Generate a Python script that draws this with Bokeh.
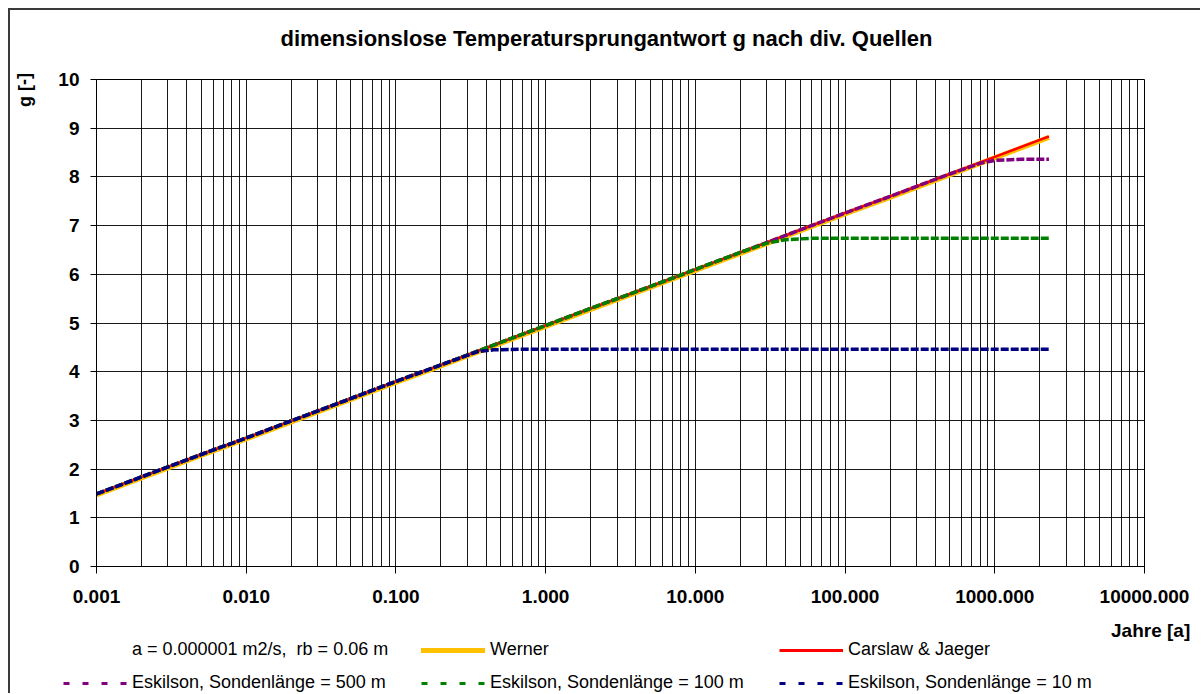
from bokeh.plotting import figure
from bokeh.layouts import column, row
from bokeh.models import FixedTicker, Legend, LegendItem, Range1d, Label
from bokeh.embed import file_html
from bokeh.resources import INLINE

# ---------------- data ----------------
t_years = [0.001, 0.002, 0.005, 0.01, 0.02, 0.05, 0.1, 0.2, 0.5, 1, 2, 5,
           10, 20, 50, 100, 200, 500, 1000, 2000, 2300]
werner = [1.47, 1.82, 2.28, 2.62, 2.97, 3.43, 3.78, 4.12, 4.58, 4.93, 5.28,
          5.73, 6.08, 6.43, 6.89, 7.24, 7.58, 8.04, 8.39, 8.74, 8.81]
carslaw = [1.49, 1.84, 2.30, 2.64, 2.99, 3.45, 3.80, 4.14, 4.60, 4.95, 5.30,
           5.75, 6.10, 6.45, 6.91, 7.26, 7.60, 8.06, 8.41, 8.76, 8.83]

esk500_t = [0.001, 0.002, 0.005, 0.01, 0.02, 0.05, 0.1, 0.2, 0.5, 1, 2, 5,
            10, 20, 50, 100, 200, 500, 800, 1000, 1500, 2300]
esk500_g = [1.49, 1.84, 2.30, 2.64, 2.99, 3.45, 3.80, 4.14, 4.60, 4.95, 5.30,
            5.75, 6.10, 6.45, 6.91, 7.26, 7.60, 8.06, 8.28, 8.34, 8.36, 8.36]

esk100_t = [0.001, 0.002, 0.005, 0.01, 0.02, 0.05, 0.1, 0.2, 0.5, 1, 2, 5,
            10, 20, 30, 40, 60, 100, 1000, 2300]
esk100_g = [1.49, 1.84, 2.30, 2.64, 2.99, 3.45, 3.80, 4.14, 4.60, 4.95, 5.30,
            5.75, 6.10, 6.45, 6.64, 6.71, 6.74, 6.74, 6.74, 6.74]

esk10_t = [0.001, 0.002, 0.005, 0.01, 0.02, 0.05, 0.1, 0.2, 0.35, 0.45,
           0.7, 1, 10, 100, 1000, 2300]
esk10_g = [1.49, 1.84, 2.30, 2.64, 2.99, 3.45, 3.80, 4.14, 4.41, 4.45,
           4.46, 4.46, 4.46, 4.46, 4.46, 4.46]

x_ticks = [0.001, 0.01, 0.1, 1, 10, 100, 1000, 10000]
x_tick_labels = ["0.001", "0.010", "0.100", "1.000", "10.000", "100.000",
                 "1000.000", "10000.000"]
y_ticks = [0, 1, 2, 3, 4, 5, 6, 7, 8, 9, 10]

title_text = "dimensionslose Temperatursprungantwort g nach div. Quellen"
y_label_text = "g [-]"
x_label_text = "Jahre  [a]"
param_text = "a = 0.000001 m2/s,  rb = 0.06 m"
series_names = ["Werner", "Carslaw & Jaeger", "Eskilson, Sondenlänge = 500 m",
                "Eskilson, Sondenlänge = 100 m", "Eskilson, Sondenlänge = 10 m"]

FONT = "Liberation Sans"
C_WERNER, C_CJ = "#FFC000", "#FF0000"
C_500, C_100, C_10 = "#800080", "#008000", "#000080"
NAN = float("nan")


def strip(w, h):
    f = figure(width=w, height=h, output_backend="svg", toolbar_location=None,
               x_axis_location=None, y_axis_location=None,
               x_range=Range1d(0, w), y_range=Range1d(0, h),
               min_border_left=0, min_border_right=0,
               min_border_top=0, min_border_bottom=0)
    f.grid.visible = False
    f.outline_line_color = None
    f.background_fill_color = "white"
    f.border_fill_color = "white"
    return f


def txt(f, x, y, s, size, bold=True, align="center", angle=0):
    f.add_layout(Label(x=x, y=y, x_units="screen", y_units="screen", text=s,
                       angle=angle, text_font=FONT,
                       text_font_style="bold" if bold else "normal",
                       text_font_size=size, text_align=align,
                       text_baseline="middle", text_color="black"))


W_G, W_R = 40, 1150
H_TOP, H_P, H_L = 50, 553, 80
H_ALL = H_TOP + H_P + H_L

# ---------------- left strip with the y label ----------------
gst = strip(W_G, H_ALL)
txt(gst, 14, H_ALL - 79.5, y_label_text, "18px", angle=1.5708)

# ---------------- title strip ----------------
top = strip(W_R, H_TOP)
txt(top, 556, 22, title_text, "22px")

# ---------------- main chart ----------------
p = figure(width=W_R, height=H_P, x_axis_type="log",
           x_range=Range1d(0.001, 10000), y_range=Range1d(0, 10),
           output_backend="svg", toolbar_location=None,
           min_border_left=46, min_border_right=56,
           min_border_top=19, min_border_bottom=47)
p.background_fill_color = "white"
p.border_fill_color = "white"
p.outline_line_color = "black"
p.outline_line_alpha = 1

minor = [m * 10.0 ** e for e in range(-3, 4) for m in range(2, 10)]
xt = FixedTicker(ticks=x_ticks, minor_ticks=minor)
yt = FixedTicker(ticks=y_ticks)
p.xaxis.ticker = xt
p.xgrid.ticker = xt
p.yaxis.ticker = yt
p.ygrid.ticker = yt
p.xaxis.major_label_overrides = {t: l for t, l in zip(x_ticks, x_tick_labels)}

for ax in (p.xaxis, p.yaxis):
    ax.major_label_text_font = FONT
    ax.major_label_text_font_style = "bold"
    ax.major_label_text_font_size = "19px"
    ax.major_label_text_color = "black"
    ax.axis_line_color = "black"
    ax.major_tick_line_color = "black"
    ax.major_tick_in = 0
    ax.minor_tick_in = 0
    ax.minor_tick_out = 0
p.xaxis.major_tick_out = 7
p.xaxis.major_label_standoff = 16
p.yaxis.major_tick_out = 6
p.yaxis.major_label_standoff = 11

p.xgrid.grid_line_color = "black"
p.xgrid.grid_line_alpha = 0.9
p.xgrid.minor_grid_line_color = "black"
p.xgrid.minor_grid_line_alpha = 0.9
p.ygrid.grid_line_color = "black"
p.ygrid.grid_line_alpha = 0.9

p.line(t_years, werner, line_color=C_WERNER, line_width=5)
p.line(t_years, carslaw, line_color=C_CJ, line_width=2.5)
p.line(esk500_t, esk500_g, line_color=C_500, line_width=3.5, line_dash="8 2")
p.line(esk100_t, esk100_g, line_color=C_100, line_width=3.5, line_dash="8 2")
p.line(esk10_t, esk10_g, line_color=C_10, line_width=3.5, line_dash="8 2")

# ---------------- x label + legend strip ----------------
lg = strip(W_R, H_L)
txt(lg, 1145, H_L - 17, x_label_text, "19px", align="right")

proxy = dict(x=[NAN, NAN], y=[NAN, NAN])
d_param = lg.line(line_alpha=0, **proxy)
d_w = lg.line(line_color=C_WERNER, line_width=5, line_cap="round", **proxy)
d_cj = lg.line(line_color=C_CJ, line_width=3, **proxy)
d_500 = lg.line(line_color=C_500, line_width=3, line_dash="6 13", **proxy)
d_100 = lg.line(line_color=C_100, line_width=3, line_dash="6 13", **proxy)
d_10 = lg.line(line_color=C_10, line_width=3, line_dash="6 13", **proxy)

cols = [
    [(param_text, d_param), (series_names[2], d_500)],
    [(series_names[0], d_w), (series_names[3], d_100)],
    [(series_names[1], d_cj), (series_names[4], d_10)],
]
for i, col in enumerate(cols):
    leg = Legend(items=[LegendItem(label=lab, renderers=[r]) for lab, r in col],
                 location=(13 + 358 * i, 0), orientation="vertical",
                 padding=0, margin=0, border_line_alpha=0,
                 background_fill_alpha=0, glyph_width=64, glyph_height=18,
                 label_height=18, spacing=12, label_standoff=5,
                 label_text_font=FONT, label_text_font_size="18px",
                 label_text_color="black")
    lg.add_layout(leg)

# p is wrapped in its own row so that the strips' frames are not aligned to it
layout = row(gst, column(top, row(p, spacing=0), lg, spacing=0), spacing=0)
layout.styles = {"margin-left": "8px", "margin-top": "8px",
                 "border-left": "2px solid #3a3a3a",
                 "border-top": "2px solid #3a3a3a"}

open("out.html", "w").write(file_html(layout, INLINE))
